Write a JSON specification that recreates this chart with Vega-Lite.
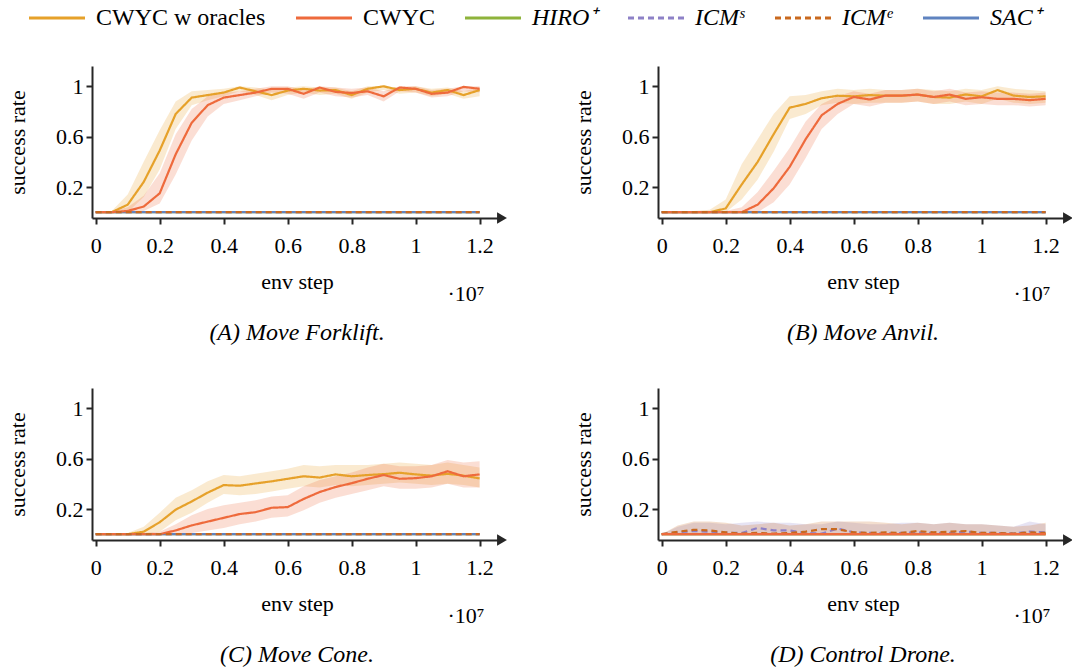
{
  "$schema": "https://vega.github.io/schema/vega-lite/v6.json",
  "background": "white",
  "padding": {"left": 6, "top": 6, "right": 5, "bottom": 5},
  "datasets": {
    "A": [
      {"method": "HIRO⁺", "step": 0, "rate": 0}, {"method": "HIRO⁺", "step": 1.2, "rate": 0},
      {"method": "SAC⁺", "step": 0, "rate": 0}, {"method": "SAC⁺", "step": 1.2, "rate": 0},
      {"method": "CWYC w oracles", "step": 0, "rate": 0, "low": 0, "high": 0.01},
      {"method": "CWYC w oracles", "step": 0.05, "rate": 0, "low": 0, "high": 0.01},
      {"method": "CWYC w oracles", "step": 0.1, "rate": 0.06, "low": 0, "high": 0.14},
      {"method": "CWYC w oracles", "step": 0.15, "rate": 0.24, "low": 0.12, "high": 0.4},
      {"method": "CWYC w oracles", "step": 0.2, "rate": 0.49, "low": 0.34, "high": 0.65},
      {"method": "CWYC w oracles", "step": 0.25, "rate": 0.78, "low": 0.66, "high": 0.88},
      {"method": "CWYC w oracles", "step": 0.3, "rate": 0.91, "low": 0.85, "high": 0.96},
      {"method": "CWYC w oracles", "step": 0.35, "rate": 0.93, "low": 0.89, "high": 0.97},
      {"method": "CWYC w oracles", "step": 0.4, "rate": 0.95, "low": 0.92, "high": 0.98},
      {"method": "CWYC w oracles", "step": 0.45, "rate": 0.99, "low": 0.96, "high": 1.0},
      {"method": "CWYC w oracles", "step": 0.5, "rate": 0.96, "low": 0.93, "high": 0.99},
      {"method": "CWYC w oracles", "step": 0.55, "rate": 0.93, "low": 0.89, "high": 0.97},
      {"method": "CWYC w oracles", "step": 0.6, "rate": 0.966, "low": 0.93, "high": 0.99},
      {"method": "CWYC w oracles", "step": 0.65, "rate": 0.98, "low": 0.95, "high": 1.0},
      {"method": "CWYC w oracles", "step": 0.7, "rate": 0.966, "low": 0.93, "high": 0.99},
      {"method": "CWYC w oracles", "step": 0.75, "rate": 0.97, "low": 0.94, "high": 0.99},
      {"method": "CWYC w oracles", "step": 0.8, "rate": 0.93, "low": 0.9, "high": 0.96},
      {"method": "CWYC w oracles", "step": 0.85, "rate": 0.98, "low": 0.95, "high": 1.0},
      {"method": "CWYC w oracles", "step": 0.9, "rate": 1.0, "low": 0.97, "high": 1.0},
      {"method": "CWYC w oracles", "step": 0.95, "rate": 0.97, "low": 0.94, "high": 0.99},
      {"method": "CWYC w oracles", "step": 1.0, "rate": 0.98, "low": 0.95, "high": 1.0},
      {"method": "CWYC w oracles", "step": 1.05, "rate": 0.95, "low": 0.92, "high": 0.98},
      {"method": "CWYC w oracles", "step": 1.1, "rate": 0.97, "low": 0.94, "high": 0.99},
      {"method": "CWYC w oracles", "step": 1.15, "rate": 0.93, "low": 0.9, "high": 0.96},
      {"method": "CWYC w oracles", "step": 1.2, "rate": 0.97, "low": 0.92, "high": 0.99},
      {"method": "CWYC", "step": 0, "rate": 0, "low": 0, "high": 0.01},
      {"method": "CWYC", "step": 0.05, "rate": 0, "low": 0, "high": 0.01},
      {"method": "CWYC", "step": 0.1, "rate": 0.01, "low": 0, "high": 0.04},
      {"method": "CWYC", "step": 0.15, "rate": 0.045, "low": 0.01, "high": 0.13},
      {"method": "CWYC", "step": 0.2, "rate": 0.15, "low": 0.07, "high": 0.31},
      {"method": "CWYC", "step": 0.25, "rate": 0.46, "low": 0.3, "high": 0.62},
      {"method": "CWYC", "step": 0.3, "rate": 0.71, "low": 0.57, "high": 0.82},
      {"method": "CWYC", "step": 0.35, "rate": 0.85, "low": 0.76, "high": 0.92},
      {"method": "CWYC", "step": 0.4, "rate": 0.91, "low": 0.86, "high": 0.95},
      {"method": "CWYC", "step": 0.45, "rate": 0.93, "low": 0.89, "high": 0.96},
      {"method": "CWYC", "step": 0.5, "rate": 0.95, "low": 0.92, "high": 0.98},
      {"method": "CWYC", "step": 0.55, "rate": 0.98, "low": 0.95, "high": 1.0},
      {"method": "CWYC", "step": 0.6, "rate": 0.98, "low": 0.94, "high": 1.0},
      {"method": "CWYC", "step": 0.65, "rate": 0.94, "low": 0.9, "high": 0.97},
      {"method": "CWYC", "step": 0.7, "rate": 0.99, "low": 0.95, "high": 1.0},
      {"method": "CWYC", "step": 0.75, "rate": 0.955, "low": 0.92, "high": 0.99},
      {"method": "CWYC", "step": 0.8, "rate": 0.947, "low": 0.91, "high": 0.98},
      {"method": "CWYC", "step": 0.85, "rate": 0.96, "low": 0.93, "high": 0.99},
      {"method": "CWYC", "step": 0.9, "rate": 0.92, "low": 0.88, "high": 0.96},
      {"method": "CWYC", "step": 0.95, "rate": 0.99, "low": 0.96, "high": 1.0},
      {"method": "CWYC", "step": 1.0, "rate": 0.98, "low": 0.95, "high": 1.0},
      {"method": "CWYC", "step": 1.05, "rate": 0.94, "low": 0.91, "high": 0.97},
      {"method": "CWYC", "step": 1.1, "rate": 0.95, "low": 0.92, "high": 0.98},
      {"method": "CWYC", "step": 1.15, "rate": 0.995, "low": 0.96, "high": 1.0},
      {"method": "CWYC", "step": 1.2, "rate": 0.98, "low": 0.95, "high": 1.0},
      {"method": "ICMˢ", "step": 0, "rate": 0}, {"method": "ICMˢ", "step": 1.2, "rate": 0},
      {"method": "ICMᵉ", "step": 0, "rate": 0}, {"method": "ICMᵉ", "step": 1.2, "rate": 0}
    ],
    "B": [
      {"method": "HIRO⁺", "step": 0, "rate": 0}, {"method": "HIRO⁺", "step": 1.2, "rate": 0},
      {"method": "SAC⁺", "step": 0, "rate": 0}, {"method": "SAC⁺", "step": 1.2, "rate": 0},
      {"method": "CWYC w oracles", "step": 0, "rate": 0, "low": 0, "high": 0.01},
      {"method": "CWYC w oracles", "step": 0.05, "rate": 0, "low": 0, "high": 0.01},
      {"method": "CWYC w oracles", "step": 0.1, "rate": 0, "low": 0, "high": 0.01},
      {"method": "CWYC w oracles", "step": 0.15, "rate": 0, "low": 0, "high": 0.02},
      {"method": "CWYC w oracles", "step": 0.2, "rate": 0.03, "low": 0, "high": 0.1},
      {"method": "CWYC w oracles", "step": 0.25, "rate": 0.22, "low": 0.1, "high": 0.38},
      {"method": "CWYC w oracles", "step": 0.3, "rate": 0.4, "low": 0.26, "high": 0.58},
      {"method": "CWYC w oracles", "step": 0.35, "rate": 0.62, "low": 0.48, "high": 0.78},
      {"method": "CWYC w oracles", "step": 0.4, "rate": 0.83, "low": 0.74, "high": 0.92},
      {"method": "CWYC w oracles", "step": 0.45, "rate": 0.86, "low": 0.78, "high": 0.93},
      {"method": "CWYC w oracles", "step": 0.5, "rate": 0.905, "low": 0.85, "high": 0.96},
      {"method": "CWYC w oracles", "step": 0.55, "rate": 0.925, "low": 0.87, "high": 0.98},
      {"method": "CWYC w oracles", "step": 0.6, "rate": 0.92, "low": 0.86, "high": 0.97},
      {"method": "CWYC w oracles", "step": 0.65, "rate": 0.93, "low": 0.87, "high": 0.98},
      {"method": "CWYC w oracles", "step": 0.7, "rate": 0.925, "low": 0.87, "high": 0.97},
      {"method": "CWYC w oracles", "step": 0.75, "rate": 0.925, "low": 0.87, "high": 0.97},
      {"method": "CWYC w oracles", "step": 0.8, "rate": 0.934, "low": 0.88, "high": 0.98},
      {"method": "CWYC w oracles", "step": 0.85, "rate": 0.915, "low": 0.86, "high": 0.97},
      {"method": "CWYC w oracles", "step": 0.9, "rate": 0.91, "low": 0.86, "high": 0.96},
      {"method": "CWYC w oracles", "step": 0.95, "rate": 0.935, "low": 0.88, "high": 0.98},
      {"method": "CWYC w oracles", "step": 1.0, "rate": 0.92, "low": 0.86, "high": 0.97},
      {"method": "CWYC w oracles", "step": 1.05, "rate": 0.97, "low": 0.9, "high": 1.0},
      {"method": "CWYC w oracles", "step": 1.1, "rate": 0.926, "low": 0.87, "high": 0.98},
      {"method": "CWYC w oracles", "step": 1.15, "rate": 0.915, "low": 0.86, "high": 0.97},
      {"method": "CWYC w oracles", "step": 1.2, "rate": 0.92, "low": 0.87, "high": 0.96},
      {"method": "CWYC", "step": 0, "rate": 0, "low": 0, "high": 0.01},
      {"method": "CWYC", "step": 0.05, "rate": 0, "low": 0, "high": 0.01},
      {"method": "CWYC", "step": 0.1, "rate": 0, "low": 0, "high": 0.01},
      {"method": "CWYC", "step": 0.15, "rate": 0, "low": 0, "high": 0.01},
      {"method": "CWYC", "step": 0.2, "rate": 0, "low": 0, "high": 0.01},
      {"method": "CWYC", "step": 0.25, "rate": 0, "low": 0, "high": 0.04},
      {"method": "CWYC", "step": 0.3, "rate": 0.06, "low": 0, "high": 0.16},
      {"method": "CWYC", "step": 0.35, "rate": 0.19, "low": 0.08, "high": 0.33},
      {"method": "CWYC", "step": 0.4, "rate": 0.36, "low": 0.22, "high": 0.51},
      {"method": "CWYC", "step": 0.45, "rate": 0.58, "low": 0.43, "high": 0.72},
      {"method": "CWYC", "step": 0.5, "rate": 0.77, "low": 0.66, "high": 0.86},
      {"method": "CWYC", "step": 0.55, "rate": 0.86, "low": 0.78, "high": 0.92},
      {"method": "CWYC", "step": 0.6, "rate": 0.915, "low": 0.86, "high": 0.96},
      {"method": "CWYC", "step": 0.65, "rate": 0.895, "low": 0.84, "high": 0.94},
      {"method": "CWYC", "step": 0.7, "rate": 0.926, "low": 0.87, "high": 0.97},
      {"method": "CWYC", "step": 0.75, "rate": 0.926, "low": 0.87, "high": 0.97},
      {"method": "CWYC", "step": 0.8, "rate": 0.934, "low": 0.88, "high": 0.98},
      {"method": "CWYC", "step": 0.85, "rate": 0.915, "low": 0.86, "high": 0.96},
      {"method": "CWYC", "step": 0.9, "rate": 0.934, "low": 0.88, "high": 0.98},
      {"method": "CWYC", "step": 0.95, "rate": 0.9, "low": 0.85, "high": 0.95},
      {"method": "CWYC", "step": 1.0, "rate": 0.913, "low": 0.86, "high": 0.96},
      {"method": "CWYC", "step": 1.05, "rate": 0.9, "low": 0.85, "high": 0.95},
      {"method": "CWYC", "step": 1.1, "rate": 0.9, "low": 0.85, "high": 0.95},
      {"method": "CWYC", "step": 1.15, "rate": 0.89, "low": 0.84, "high": 0.94},
      {"method": "CWYC", "step": 1.2, "rate": 0.9, "low": 0.85, "high": 0.95},
      {"method": "ICMˢ", "step": 0, "rate": 0}, {"method": "ICMˢ", "step": 1.2, "rate": 0},
      {"method": "ICMᵉ", "step": 0, "rate": 0}, {"method": "ICMᵉ", "step": 1.2, "rate": 0}
    ],
    "C": [
      {"method": "HIRO⁺", "step": 0, "rate": 0}, {"method": "HIRO⁺", "step": 1.2, "rate": 0},
      {"method": "SAC⁺", "step": 0, "rate": 0}, {"method": "SAC⁺", "step": 1.2, "rate": 0},
      {"method": "CWYC w oracles", "step": 0, "rate": 0, "low": 0, "high": 0.01},
      {"method": "CWYC w oracles", "step": 0.05, "rate": 0, "low": 0, "high": 0.01},
      {"method": "CWYC w oracles", "step": 0.1, "rate": 0, "low": 0, "high": 0.01},
      {"method": "CWYC w oracles", "step": 0.15, "rate": 0.02, "low": 0, "high": 0.06},
      {"method": "CWYC w oracles", "step": 0.2, "rate": 0.095, "low": 0.02, "high": 0.17},
      {"method": "CWYC w oracles", "step": 0.25, "rate": 0.195, "low": 0.11, "high": 0.29},
      {"method": "CWYC w oracles", "step": 0.3, "rate": 0.26, "low": 0.17, "high": 0.35},
      {"method": "CWYC w oracles", "step": 0.35, "rate": 0.33, "low": 0.25, "high": 0.42},
      {"method": "CWYC w oracles", "step": 0.4, "rate": 0.39, "low": 0.32, "high": 0.47},
      {"method": "CWYC w oracles", "step": 0.45, "rate": 0.385, "low": 0.31, "high": 0.46},
      {"method": "CWYC w oracles", "step": 0.5, "rate": 0.403, "low": 0.32, "high": 0.48},
      {"method": "CWYC w oracles", "step": 0.55, "rate": 0.42, "low": 0.34, "high": 0.5},
      {"method": "CWYC w oracles", "step": 0.6, "rate": 0.44, "low": 0.36, "high": 0.52},
      {"method": "CWYC w oracles", "step": 0.65, "rate": 0.46, "low": 0.38, "high": 0.55},
      {"method": "CWYC w oracles", "step": 0.7, "rate": 0.45, "low": 0.37, "high": 0.54},
      {"method": "CWYC w oracles", "step": 0.75, "rate": 0.475, "low": 0.39, "high": 0.55},
      {"method": "CWYC w oracles", "step": 0.8, "rate": 0.46, "low": 0.38, "high": 0.55},
      {"method": "CWYC w oracles", "step": 0.85, "rate": 0.47, "low": 0.39, "high": 0.55},
      {"method": "CWYC w oracles", "step": 0.9, "rate": 0.477, "low": 0.4, "high": 0.56},
      {"method": "CWYC w oracles", "step": 0.95, "rate": 0.488, "low": 0.41, "high": 0.57},
      {"method": "CWYC w oracles", "step": 1.0, "rate": 0.475, "low": 0.4, "high": 0.56},
      {"method": "CWYC w oracles", "step": 1.05, "rate": 0.465, "low": 0.39, "high": 0.55},
      {"method": "CWYC w oracles", "step": 1.1, "rate": 0.48, "low": 0.4, "high": 0.57},
      {"method": "CWYC w oracles", "step": 1.15, "rate": 0.465, "low": 0.39, "high": 0.55},
      {"method": "CWYC w oracles", "step": 1.2, "rate": 0.443, "low": 0.37, "high": 0.53},
      {"method": "CWYC", "step": 0, "rate": 0, "low": 0, "high": 0.01},
      {"method": "CWYC", "step": 0.05, "rate": 0, "low": 0, "high": 0.01},
      {"method": "CWYC", "step": 0.1, "rate": 0, "low": 0, "high": 0.01},
      {"method": "CWYC", "step": 0.15, "rate": 0, "low": 0, "high": 0.01},
      {"method": "CWYC", "step": 0.2, "rate": 0, "low": 0, "high": 0.02},
      {"method": "CWYC", "step": 0.25, "rate": 0.03, "low": 0, "high": 0.08},
      {"method": "CWYC", "step": 0.3, "rate": 0.07, "low": 0.01, "high": 0.15},
      {"method": "CWYC", "step": 0.35, "rate": 0.1, "low": 0.03, "high": 0.2},
      {"method": "CWYC", "step": 0.4, "rate": 0.13, "low": 0.05, "high": 0.23},
      {"method": "CWYC", "step": 0.45, "rate": 0.16, "low": 0.08, "high": 0.25},
      {"method": "CWYC", "step": 0.5, "rate": 0.175, "low": 0.1, "high": 0.27},
      {"method": "CWYC", "step": 0.55, "rate": 0.21, "low": 0.13, "high": 0.3},
      {"method": "CWYC", "step": 0.6, "rate": 0.215, "low": 0.14, "high": 0.31},
      {"method": "CWYC", "step": 0.65, "rate": 0.28, "low": 0.19, "high": 0.38},
      {"method": "CWYC", "step": 0.7, "rate": 0.335, "low": 0.25, "high": 0.43},
      {"method": "CWYC", "step": 0.75, "rate": 0.375, "low": 0.29, "high": 0.46},
      {"method": "CWYC", "step": 0.8, "rate": 0.405, "low": 0.32, "high": 0.49},
      {"method": "CWYC", "step": 0.85, "rate": 0.44, "low": 0.35, "high": 0.53},
      {"method": "CWYC", "step": 0.9, "rate": 0.47, "low": 0.38, "high": 0.56},
      {"method": "CWYC", "step": 0.95, "rate": 0.44, "low": 0.36, "high": 0.54},
      {"method": "CWYC", "step": 1.0, "rate": 0.445, "low": 0.36, "high": 0.54},
      {"method": "CWYC", "step": 1.05, "rate": 0.46, "low": 0.37, "high": 0.55},
      {"method": "CWYC", "step": 1.1, "rate": 0.5, "low": 0.4, "high": 0.59},
      {"method": "CWYC", "step": 1.15, "rate": 0.46, "low": 0.37, "high": 0.57},
      {"method": "CWYC", "step": 1.2, "rate": 0.475, "low": 0.37, "high": 0.58},
      {"method": "ICMˢ", "step": 0, "rate": 0}, {"method": "ICMˢ", "step": 1.2, "rate": 0},
      {"method": "ICMᵉ", "step": 0, "rate": 0}, {"method": "ICMᵉ", "step": 1.2, "rate": 0}
    ],
    "D": [
      {"method": "HIRO⁺", "step": 0, "rate": 0}, {"method": "HIRO⁺", "step": 1.2, "rate": 0},
      {"method": "SAC⁺", "step": 0, "rate": 0}, {"method": "SAC⁺", "step": 1.2, "rate": 0},
      {"method": "ICMˢ", "step": 0, "rate": 0, "low": 0, "high": 0},
      {"method": "ICMˢ", "step": 0.05, "rate": 0.015, "low": 0, "high": 0.06},
      {"method": "ICMˢ", "step": 0.1, "rate": 0.025, "low": 0, "high": 0.09},
      {"method": "ICMˢ", "step": 0.15, "rate": 0.02, "low": 0, "high": 0.09},
      {"method": "ICMˢ", "step": 0.2, "rate": 0.012, "low": 0, "high": 0.08},
      {"method": "ICMˢ", "step": 0.25, "rate": 0.01, "low": 0, "high": 0.09},
      {"method": "ICMˢ", "step": 0.3, "rate": 0.05, "low": 0, "high": 0.1},
      {"method": "ICMˢ", "step": 0.35, "rate": 0.03, "low": 0, "high": 0.09},
      {"method": "ICMˢ", "step": 0.4, "rate": 0.03, "low": 0, "high": 0.09},
      {"method": "ICMˢ", "step": 0.45, "rate": 0.01, "low": 0, "high": 0.08},
      {"method": "ICMˢ", "step": 0.5, "rate": 0.005, "low": 0, "high": 0.08},
      {"method": "ICMˢ", "step": 0.55, "rate": 0.045, "low": 0, "high": 0.1},
      {"method": "ICMˢ", "step": 0.6, "rate": 0.015, "low": 0, "high": 0.09},
      {"method": "ICMˢ", "step": 0.65, "rate": 0.01, "low": 0, "high": 0.08},
      {"method": "ICMˢ", "step": 0.7, "rate": 0.005, "low": 0, "high": 0.08},
      {"method": "ICMˢ", "step": 0.75, "rate": 0.01, "low": 0, "high": 0.09},
      {"method": "ICMˢ", "step": 0.8, "rate": 0.015, "low": 0, "high": 0.09},
      {"method": "ICMˢ", "step": 0.85, "rate": 0.01, "low": 0, "high": 0.08},
      {"method": "ICMˢ", "step": 0.9, "rate": 0.01, "low": 0, "high": 0.09},
      {"method": "ICMˢ", "step": 0.95, "rate": 0.02, "low": 0, "high": 0.08},
      {"method": "ICMˢ", "step": 1.0, "rate": 0.01, "low": 0, "high": 0.08},
      {"method": "ICMˢ", "step": 1.05, "rate": 0.01, "low": 0, "high": 0.07},
      {"method": "ICMˢ", "step": 1.1, "rate": 0.005, "low": 0, "high": 0.06},
      {"method": "ICMˢ", "step": 1.15, "rate": 0.02, "low": 0, "high": 0.1},
      {"method": "ICMˢ", "step": 1.2, "rate": 0.015, "low": 0, "high": 0.08},
      {"method": "ICMᵉ", "step": 0, "rate": 0, "low": 0, "high": 0},
      {"method": "ICMᵉ", "step": 0.05, "rate": 0.02, "low": 0, "high": 0.07},
      {"method": "ICMᵉ", "step": 0.1, "rate": 0.035, "low": 0, "high": 0.1},
      {"method": "ICMᵉ", "step": 0.15, "rate": 0.03, "low": 0, "high": 0.1},
      {"method": "ICMᵉ", "step": 0.2, "rate": 0.015, "low": 0, "high": 0.09},
      {"method": "ICMᵉ", "step": 0.25, "rate": 0.005, "low": 0, "high": 0.07},
      {"method": "ICMᵉ", "step": 0.3, "rate": 0.01, "low": 0, "high": 0.08},
      {"method": "ICMᵉ", "step": 0.35, "rate": 0.005, "low": 0, "high": 0.09},
      {"method": "ICMᵉ", "step": 0.4, "rate": 0.01, "low": 0, "high": 0.07},
      {"method": "ICMᵉ", "step": 0.45, "rate": 0.02, "low": 0, "high": 0.08},
      {"method": "ICMᵉ", "step": 0.5, "rate": 0.04, "low": 0, "high": 0.1},
      {"method": "ICMᵉ", "step": 0.55, "rate": 0.04, "low": 0, "high": 0.1},
      {"method": "ICMᵉ", "step": 0.6, "rate": 0.015, "low": 0, "high": 0.1},
      {"method": "ICMᵉ", "step": 0.65, "rate": 0.01, "low": 0, "high": 0.1},
      {"method": "ICMᵉ", "step": 0.7, "rate": 0.015, "low": 0, "high": 0.09},
      {"method": "ICMᵉ", "step": 0.75, "rate": 0.01, "low": 0, "high": 0.08},
      {"method": "ICMᵉ", "step": 0.8, "rate": 0.025, "low": 0, "high": 0.09},
      {"method": "ICMᵉ", "step": 0.85, "rate": 0.015, "low": 0, "high": 0.08},
      {"method": "ICMᵉ", "step": 0.9, "rate": 0.02, "low": 0, "high": 0.09},
      {"method": "ICMᵉ", "step": 0.95, "rate": 0.025, "low": 0, "high": 0.08},
      {"method": "ICMᵉ", "step": 1.0, "rate": 0.01, "low": 0, "high": 0.08},
      {"method": "ICMᵉ", "step": 1.05, "rate": 0.01, "low": 0, "high": 0.07},
      {"method": "ICMᵉ", "step": 1.1, "rate": 0.005, "low": 0, "high": 0.06},
      {"method": "ICMᵉ", "step": 1.15, "rate": 0.015, "low": 0, "high": 0.07},
      {"method": "ICMᵉ", "step": 1.2, "rate": 0.01, "low": 0, "high": 0.09},
      {"method": "CWYC w oracles", "step": 0, "rate": 0}, {"method": "CWYC w oracles", "step": 1.2, "rate": 0},
      {"method": "CWYC", "step": 0, "rate": 0}, {"method": "CWYC", "step": 1.2, "rate": 0}
    ]
  },
  "columns": 2,
  "spacing": {"row": 170, "column": 156},
  "bounds": "flush",
  "concat": [
    {
      "width": 410, "height": 152,
      "title": "(A) Move Forklift.",
      "layer": [
        {
          "data": {"name": "A"},
          "encoding": {
            "x": {"field": "step", "type": "quantitative", "scale": {"domain": [-0.0116, 1.27], "nice": false, "zero": false},
                  "axis": {"title": "env step", "values": [0, 0.2, 0.4, 0.6, 0.8, 1, 1.2], "format": "~g", "labelFlush": false}}
          },
          "layer": [
            {"transform": [{"filter": "isValid(datum.low)"}], "mark": {"type": "area", "opacity": 0.22},
             "encoding": {"y": {"field": "low", "type": "quantitative", "scale": {"domain": [-0.046, 1.161], "nice": false, "zero": false}, "axis": {"title": "success rate", "values": [0.2, 0.6, 1], "format": "~g"}},
                          "y2": {"field": "high"},
                          "fill": {"field": "method", "type": "nominal", "scale": {"domain": ["SAC⁺", "ICMᵉ", "ICMˢ", "HIRO⁺", "CWYC", "CWYC w oracles"], "range": ["#5F83C0", "#C9691E", "#8E81C7", "#8EB33B", "#EE6A3C", "#E6A12A"]}, "legend": null}}},
            {"mark": {"type": "line", "strokeWidth": 2.2},
             "encoding": {"y": {"field": "rate", "type": "quantitative", "axis": {"title": "success rate", "values": [0.2, 0.6, 1], "format": "~g"}},
                          "color": {"field": "method", "type": "nominal", "scale": {"domain": ["CWYC w oracles", "CWYC", "HIRO⁺", "ICMˢ", "ICMᵉ", "SAC⁺"], "range": ["#E6A12A", "#EE6A3C", "#8EB33B", "#8E81C7", "#C9691E", "#5F83C0"]},
                                    "legend": {"orient": "none", "legendX": -47, "legendY": -60, "direction": "horizontal", "title": null, "symbolType": "M-4,0L4,0", "symbolSize": 196, "symbolStrokeWidth": 3, "labelOffset": 27, "columnPadding": 24, "labelFontSize": 24, "labelFont": "Liberation Serif", "labelColor": "black", "labelLimit": 400,
                                               "encoding": {"labels": {"fontStyle": {"condition": {"test": "indexof(['CWYC w oracles', 'CWYC'], datum.value) < 0", "value": "italic"}, "value": "normal"}}}}},
                          "strokeDash": {"field": "method", "type": "nominal", "scale": {"domain": ["CWYC w oracles", "CWYC", "HIRO⁺", "ICMˢ", "ICMᵉ", "SAC⁺"], "range": [[1, 0], [1, 0], [1, 0], [6, 4], [6, 4], [1, 0]]},
                                    "legend": {"orient": "none", "legendX": -47, "legendY": -60, "direction": "horizontal", "title": null, "symbolType": "M-4,0L4,0", "symbolSize": 196, "symbolStrokeWidth": 3, "labelOffset": 27, "columnPadding": 24, "labelFontSize": 24, "labelFont": "Liberation Serif", "labelColor": "black", "labelLimit": 400}}}},
            {"data": {"values": [{}]}, "mark": {"type": "point", "shape": "triangle-up", "filled": true, "size": 130, "color": "#262626", "opacity": 1},
             "encoding": {"x": {"datum": -0.0116, "type": "quantitative"}, "y": {"datum": 1.161, "type": "quantitative"}}}
          ]
        },
        {"data": {"values": [{}]}, "mark": {"type": "point", "shape": "triangle-right", "filled": true, "size": 130, "color": "#262626", "opacity": 1},
         "encoding": {"x": {"datum": 1.27, "type": "quantitative", "scale": {"domain": [-0.0116, 1.27], "nice": false, "zero": false},
                            "axis": {"orient": "bottom", "domain": false, "ticks": false, "labels": false, "title": "·10⁷", "titleX": 392, "titleY": 75, "titleAlign": "right", "titleBaseline": "middle"}},
                      "y": {"datum": -0.046, "type": "quantitative"}}}
      ],
      "resolve": {"scale": {"x": "independent"}, "axis": {"x": "independent"}}
    },
    {
      "width": 410, "height": 152,
      "title": "(B) Move Anvil.",
      "layer": [
        {
          "data": {"name": "B"},
          "encoding": {
            "x": {"field": "step", "type": "quantitative", "scale": {"domain": [-0.0116, 1.27], "nice": false, "zero": false},
                  "axis": {"title": "env step", "values": [0, 0.2, 0.4, 0.6, 0.8, 1, 1.2], "format": "~g", "labelFlush": false}}
          },
          "layer": [
            {"transform": [{"filter": "isValid(datum.low)"}], "mark": {"type": "area", "opacity": 0.22},
             "encoding": {"y": {"field": "low", "type": "quantitative", "scale": {"domain": [-0.046, 1.161], "nice": false, "zero": false}, "axis": {"title": "success rate", "values": [0.2, 0.6, 1], "format": "~g"}},
                          "y2": {"field": "high"},
                          "fill": {"field": "method", "type": "nominal", "legend": null}}},
            {"mark": {"type": "line", "strokeWidth": 2.2},
             "encoding": {"y": {"field": "rate", "type": "quantitative", "axis": {"title": "success rate", "values": [0.2, 0.6, 1], "format": "~g"}},
                          "color": {"field": "method", "type": "nominal"},
                          "strokeDash": {"field": "method", "type": "nominal"}}},
            {"data": {"values": [{}]}, "mark": {"type": "point", "shape": "triangle-up", "filled": true, "size": 130, "color": "#262626", "opacity": 1},
             "encoding": {"x": {"datum": -0.0116, "type": "quantitative"}, "y": {"datum": 1.161, "type": "quantitative"}}}
          ]
        },
        {"data": {"values": [{}]}, "mark": {"type": "point", "shape": "triangle-right", "filled": true, "size": 130, "color": "#262626", "opacity": 1},
         "encoding": {"x": {"datum": 1.27, "type": "quantitative", "scale": {"domain": [-0.0116, 1.27], "nice": false, "zero": false},
                            "axis": {"orient": "bottom", "domain": false, "ticks": false, "labels": false, "title": "·10⁷", "titleX": 392, "titleY": 75, "titleAlign": "right", "titleBaseline": "middle"}},
                      "y": {"datum": -0.046, "type": "quantitative"}}}
      ],
      "resolve": {"scale": {"x": "independent"}, "axis": {"x": "independent"}}
    },
    {
      "width": 410, "height": 152,
      "title": "(C) Move Cone.",
      "layer": [
        {
          "data": {"name": "C"},
          "encoding": {
            "x": {"field": "step", "type": "quantitative", "scale": {"domain": [-0.0116, 1.27], "nice": false, "zero": false},
                  "axis": {"title": "env step", "values": [0, 0.2, 0.4, 0.6, 0.8, 1, 1.2], "format": "~g", "labelFlush": false}}
          },
          "layer": [
            {"transform": [{"filter": "isValid(datum.low)"}], "mark": {"type": "area", "opacity": 0.22},
             "encoding": {"y": {"field": "low", "type": "quantitative", "scale": {"domain": [-0.046, 1.161], "nice": false, "zero": false}, "axis": {"title": "success rate", "values": [0.2, 0.6, 1], "format": "~g"}},
                          "y2": {"field": "high"},
                          "fill": {"field": "method", "type": "nominal", "legend": null}}},
            {"mark": {"type": "line", "strokeWidth": 2.2},
             "encoding": {"y": {"field": "rate", "type": "quantitative", "axis": {"title": "success rate", "values": [0.2, 0.6, 1], "format": "~g"}},
                          "color": {"field": "method", "type": "nominal"},
                          "strokeDash": {"field": "method", "type": "nominal"}}},
            {"data": {"values": [{}]}, "mark": {"type": "point", "shape": "triangle-up", "filled": true, "size": 130, "color": "#262626", "opacity": 1},
             "encoding": {"x": {"datum": -0.0116, "type": "quantitative"}, "y": {"datum": 1.161, "type": "quantitative"}}}
          ]
        },
        {"data": {"values": [{}]}, "mark": {"type": "point", "shape": "triangle-right", "filled": true, "size": 130, "color": "#262626", "opacity": 1},
         "encoding": {"x": {"datum": 1.27, "type": "quantitative", "scale": {"domain": [-0.0116, 1.27], "nice": false, "zero": false},
                            "axis": {"orient": "bottom", "domain": false, "ticks": false, "labels": false, "title": "·10⁷", "titleX": 392, "titleY": 75, "titleAlign": "right", "titleBaseline": "middle"}},
                      "y": {"datum": -0.046, "type": "quantitative"}}}
      ],
      "resolve": {"scale": {"x": "independent"}, "axis": {"x": "independent"}}
    },
    {
      "width": 410, "height": 152,
      "title": "(D) Control Drone.",
      "layer": [
        {
          "data": {"name": "D"},
          "encoding": {
            "x": {"field": "step", "type": "quantitative", "scale": {"domain": [-0.0116, 1.27], "nice": false, "zero": false},
                  "axis": {"title": "env step", "values": [0, 0.2, 0.4, 0.6, 0.8, 1, 1.2], "format": "~g", "labelFlush": false}}
          },
          "layer": [
            {"transform": [{"filter": "isValid(datum.low)"}], "mark": {"type": "area", "opacity": 0.22},
             "encoding": {"y": {"field": "low", "type": "quantitative", "scale": {"domain": [-0.046, 1.161], "nice": false, "zero": false}, "axis": {"title": "success rate", "values": [0.2, 0.6, 1], "format": "~g"}},
                          "y2": {"field": "high"},
                          "fill": {"field": "method", "type": "nominal", "legend": null}}},
            {"mark": {"type": "line", "strokeWidth": 2.2},
             "encoding": {"y": {"field": "rate", "type": "quantitative", "axis": {"title": "success rate", "values": [0.2, 0.6, 1], "format": "~g"}},
                          "color": {"field": "method", "type": "nominal"},
                          "strokeDash": {"field": "method", "type": "nominal"}}},
            {"data": {"values": [{}]}, "mark": {"type": "point", "shape": "triangle-up", "filled": true, "size": 130, "color": "#262626", "opacity": 1},
             "encoding": {"x": {"datum": -0.0116, "type": "quantitative"}, "y": {"datum": 1.161, "type": "quantitative"}}}
          ]
        },
        {"data": {"values": [{}]}, "mark": {"type": "point", "shape": "triangle-right", "filled": true, "size": 130, "color": "#262626", "opacity": 1},
         "encoding": {"x": {"datum": 1.27, "type": "quantitative", "scale": {"domain": [-0.0116, 1.27], "nice": false, "zero": false},
                            "axis": {"orient": "bottom", "domain": false, "ticks": false, "labels": false, "title": "·10⁷", "titleX": 392, "titleY": 75, "titleAlign": "right", "titleBaseline": "middle"}},
                      "y": {"datum": -0.046, "type": "quantitative"}}}
      ],
      "resolve": {"scale": {"x": "independent"}, "axis": {"x": "independent"}}
    }
  ],
  "config": {
    "font": "Liberation Serif",
    "view": {"stroke": null},
    "axis": {"labelFont": "Liberation Serif", "labelFontSize": 22, "labelColor": "black", "titleFont": "Liberation Serif", "titleFontSize": 22, "titleFontWeight": "normal", "titleColor": "black",
             "domainColor": "#262626", "domainWidth": 2, "tickColor": "#262626", "tickWidth": 2, "tickSize": 6, "grid": false},
    "axisX": {"titlePadding": 15, "labelPadding": 11},
    "axisY": {"titlePadding": 26, "labelPadding": 3},
    "legend": {"labelFont": "Liberation Serif", "labelFontSize": 24, "labelColor": "black"},
    "title": {"font": "Liberation Serif", "fontSize": 24, "fontWeight": "normal", "fontStyle": "italic", "color": "black", "orient": "bottom", "offset": 17}
  }
}
